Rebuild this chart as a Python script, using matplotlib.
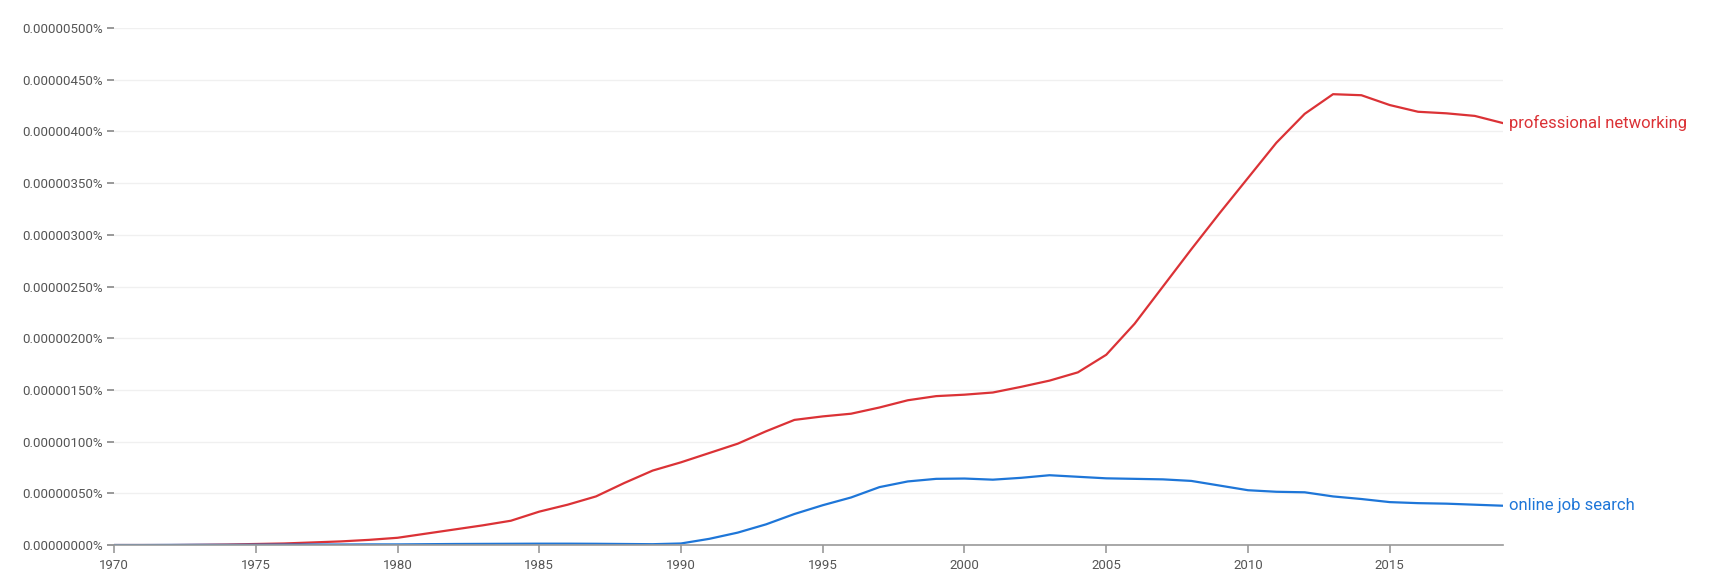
import matplotlib
matplotlib.use("Agg")
import matplotlib.pyplot as plt
from matplotlib.ticker import FuncFormatter, MultipleLocator

plt.rcParams['font.family'] = ['Roboto', 'DejaVu Sans']

# values in millionths of a percent (1.0 -> 0.000001%)
years = list(range(1970, 2020))
professional_networking = [
    0.0, 0.0, 0.0, 0.002, 0.005, 0.01, 0.015, 0.025, 0.035, 0.05,
    0.07, 0.11, 0.15, 0.19, 0.235, 0.323, 0.39, 0.47, 0.6, 0.72,
    0.80, 0.89, 0.98, 1.1, 1.21, 1.244, 1.27, 1.33, 1.40, 1.44,
    1.454, 1.475, 1.53, 1.59, 1.67, 1.84, 2.14, 2.50, 2.86, 3.21,
    3.55, 3.89, 4.17, 4.36, 4.35, 4.255, 4.19, 4.175, 4.15, 4.08,
]
online_job_search = [
    0.0, 0.0, 0.001, 0.002, 0.002, 0.003, 0.004, 0.005, 0.005, 0.006,
    0.006, 0.008, 0.01, 0.011, 0.012, 0.013, 0.013, 0.012, 0.01, 0.008,
    0.015, 0.06, 0.12, 0.20, 0.30, 0.385, 0.46, 0.56, 0.615, 0.64,
    0.643, 0.632, 0.65, 0.675, 0.66, 0.645, 0.64, 0.635, 0.62, 0.575,
    0.53, 0.515, 0.51, 0.47, 0.445, 0.415, 0.405, 0.40, 0.39, 0.38,
]
series = [
    ("professional networking", professional_networking, "#db3236"),
    ("online job search", online_job_search, "#1e76d8"),
]

fig = plt.figure(figsize=(17.12, 5.8), dpi=100)
ax = fig.add_axes([0.0666, 0.0603, 0.8114, 0.8914])

for name, vals, col in series:
    ax.plot(years, vals, color=col, lw=1.6, solid_capstyle='round',
            solid_joinstyle='round')
    ax.text(years[-1] + 0.2, vals[-1], name, color=col, fontsize=12,
            va='center', ha='left', clip_on=False)

ax.set_xlim(1970, 2019)
ax.set_ylim(0, 5.0)
ax.xaxis.set_major_locator(MultipleLocator(5))
ax.yaxis.set_major_locator(MultipleLocator(0.5))
ax.yaxis.set_major_formatter(FuncFormatter(lambda v, p: f"{v * 1e-6:.8f}%"))

ax.grid(axis='y', color='#f0f0f0', lw=1)
ax.set_axisbelow(True)
for s in ['top', 'right', 'left']:
    ax.spines[s].set_visible(False)
ax.spines['bottom'].set_color('#999999')
ax.spines['bottom'].set_linewidth(1.2)

ax.tick_params(axis='y', length=5, width=1.2, color='#888888',
               labelcolor='#555555', labelsize=9.5, pad=3)
ax.tick_params(axis='x', length=6, width=1.2, color='#999999',
               labelcolor='#555555', labelsize=9.5, pad=4)

fig.savefig("out.png", dpi=100)
